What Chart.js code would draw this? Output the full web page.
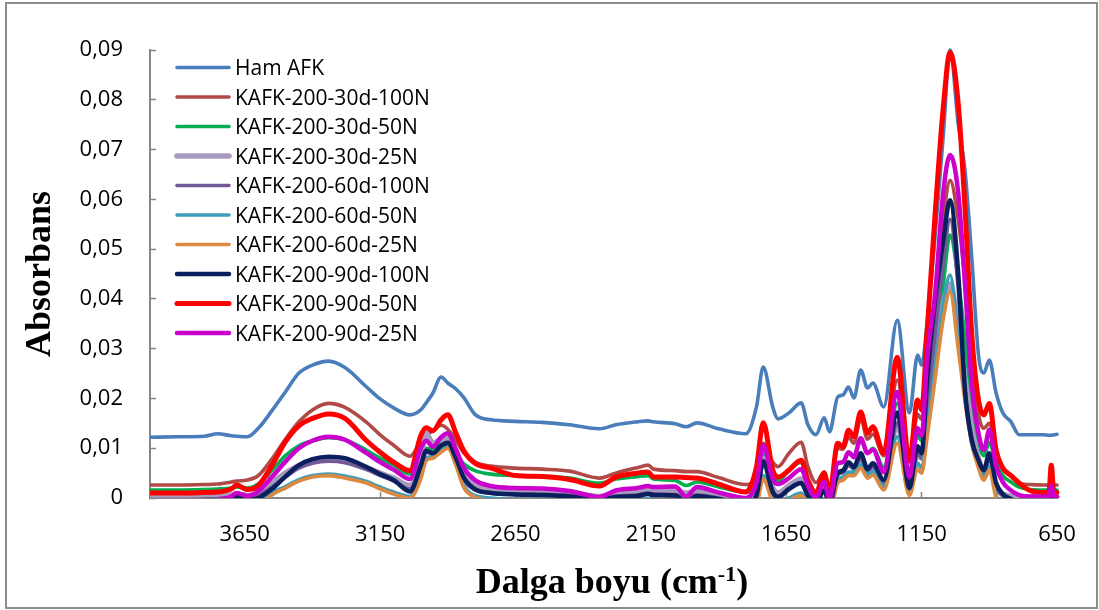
<!DOCTYPE html>
<html>
<head>
<meta charset="utf-8">
<script src="https://cdn.jsdelivr.net/npm/chart.js@4.4.1/dist/chart.umd.min.js"></script>
<style>
  html, body { margin: 0; padding: 0; background: #fff; }
  #wrap { width: 1099px; height: 610px; }
</style>
</head>
<body>
<div id="wrap"><canvas id="myChart" width="1099" height="610"></canvas></div>
<script>
// wavenumbers (cm-1), shared by every spectrum
const waveNumbers = [
  4000, 3900, 3800, 3750, 3700, 3680, 3640, 3600, 3550, 3500,
  3450, 3400, 3340, 3280, 3200, 3150, 3100, 3040, 3000, 2980,
  2955, 2925, 2900, 2870, 2840, 2800, 2740, 2650, 2550, 2450,
  2340, 2280, 2200, 2160, 2140, 2060, 2020, 1980, 1900, 1800,
  1760, 1735, 1700, 1680, 1640, 1595, 1570, 1540, 1510, 1490,
  1460, 1440, 1420, 1400, 1375, 1350, 1330, 1290, 1240, 1195,
  1165, 1150, 1130, 1100, 1070, 1045, 1015, 990, 965, 940,
  920, 900, 875, 850, 820, 790, 750, 700, 680, 671, 662, 650
];

const seriesNames = [
  "Ham AFK", "KAFK-200-30d-100N", "KAFK-200-30d-50N", "KAFK-200-30d-25N",
  "KAFK-200-60d-100N", "KAFK-200-60d-50N", "KAFK-200-60d-25N",
  "KAFK-200-90d-100N", "KAFK-200-90d-50N", "KAFK-200-90d-25N"
];

const hamAfk = [
  .0122, .0123, .0124, .0129, .0125, .0124, .0123, .0140, .0175, .0213,
  .0251, .0267, .0275, .0262, .0223, .0199, .0181, .0167, .0177, .0191,
  .0211, .0243, .0231, .0219, .0201, .0168, .0157, .0154, .0152, .0147,
  .0139, .0147, .0153, .0155, .0153, .0149, .0143, .0151, .0139, .0129,
  .0183, .0263, .0183, .0159, .0171, .0191, .0147, .0127, .0161, .0133,
  .0203, .0207, .0223, .0201, .0257, .0221, .0231, .0183, .0357, .0171,
  .0287, .0267, .0351, .0528, .0729, .0900, .0753, .0659, .0484, .0287,
  .0251, .0277, .0211, .0171, .0153, .0127, .0127, .0127, .0126, .0126, .0127, .0128
];

const kafk30d100N = [
  .0026, .0026, .0027, .0028, .0032, .0034, .0036, .0045, .0078, .0118,
  .0153, .0177, .0190, .0182, .0152, .0127, .0106, .0084, .0113, .0126,
  .0135, .0146, .0138, .0116, .0090, .0072, .0064, .0060, .0058, .0054,
  .0040, .0050, .0061, .0066, .0058, .0055, .0053, .0053, .0041, .0027,
  .0040, .0110, .0072, .0063, .0090, .0112, .0063, .0031, .0052, .0020,
  .0100, .0098, .0122, .0110, .0160, .0118, .0128, .0085, .0237, .0076,
  .0168, .0158, .0260, .0400, .0560, .0638, .0560, .0440, .0310, .0170,
  .0140, .0150, .0095, .0062, .0045, .0030, .0027, .0026, .0026, .0040, .0027, .0026
];

const kafk30d50N = [
  .0016, .0016, .0017, .0018, .0020, .0022, .0020, .0028, .0055, .0085,
  .0105, .0115, .0121, .0117, .0096, .0080, .0066, .0048, .0085, .0100,
  .0098, .0115, .0118, .0090, .0068, .0055, .0048, .0045, .0044, .0040,
  .0030, .0038, .0043, .0045, .0038, .0035, .0025, .0032, .0022, .0012,
  .0025, .0090, .0045, .0035, .0055, .0072, .0030, .0008, .0040, .0008,
  .0070, .0072, .0092, .0085, .0118, .0090, .0100, .0062, .0190, .0055,
  .0125, .0115, .0195, .0300, .0430, .0528, .0440, .0320, .0190, .0110,
  .0085, .0112, .0070, .0045, .0032, .0022, .0017, .0016, .0016, .0040, .0016, .0016
];

const kafk30d25N = [
  .0002, .0002, .0003, .0004, .0006, .0008, .0005, .0010, .0030, .0050,
  .0065, .0073, .0077, .0074, .0060, .0050, .0040, .0025, .0080, .0130,
  .0110, .0118, .0120, .0085, .0045, .0025, .0018, .0015, .0014, .0011,
  .0003, .0010, .0013, .0018, .0015, .0014, .0010, .0013, .0006, -.0004,
  .0012, .0080, .0020, .0010, .0025, .0038, .0012, -.0005, .0022, -.0005,
  .0050, .0055, .0068, .0062, .0082, .0058, .0065, .0030, .0150, .0018,
  .0090, .0080, .0160, .0290, .0390, .0430, .0340, .0240, .0140, .0080,
  .0055, .0080, .0020, .0008, .0004, .0002, .0002, .0002, .0002, .0015, .0002, .0002
];

const kafk60d100N = [
  -.0003, -.0003, -.0002, -.0001, .0002, .0004, .0001, .0005, .0022, .0042,
  .0060, .0070, .0074, .0071, .0057, .0045, .0034, .0018, .0060, .0092,
  .0088, .0100, .0106, .0075, .0036, .0016, .0010, .0008, .0007, .0005,
  -.0003, .0004, .0006, .0010, .0008, .0007, .0002, .0006, .0000, -.0010,
  .0006, .0068, .0013, .0004, .0019, .0031, .0006, -.0010, .0014, -.0010,
  .0046, .0051, .0066, .0058, .0080, .0053, .0062, .0030, .0150, .0016,
  .0090, .0080, .0170, .0330, .0470, .0560, .0420, .0220, .0110, .0068,
  .0050, .0080, .0022, .0004, -.0002, -.0005, -.0006, -.0006, -.0006, .0008, -.0006, -.0006
];

const kafk60d50N = [
  -.0035, -.0035, -.0033, -.0030, -.0022, -.0018, -.0020, -.0012, .0010, .0023,
  .0037, .0045, .0048, .0044, .0033, .0022, .0012, .0003, .0045, .0080,
  .0083, .0095, .0103, .0068, .0024, .0005, .0000, -.0003, -.0003, -.0005,
  -.0012, -.0007, -.0005, -.0001, -.0003, -.0004, -.0007, -.0005, -.0011, -.0020,
  -.0010, .0045, -.0003, -.0010, .0000, .0010, -.0007, -.0022, -.0003, -.0024,
  .0036, .0042, .0052, .0052, .0068, .0047, .0053, .0022, .0123, .0012,
  .0070, .0060, .0135, .0265, .0390, .0448, .0320, .0210, .0120, .0066,
  .0042, .0062, .0005, -.0010, -.0020, -.0025, -.0030, -.0030, -.0030, -.0020, -.0030, -.0030
];

const kafk60d25N = [
  -.0045, -.0045, -.0043, -.0040, -.0033, -.0028, -.0030, -.0020, .0006, .0020,
  .0034, .0042, .0045, .0040, .0030, .0018, .0008, .0000, .0038, .0075,
  .0080, .0092, .0100, .0065, .0020, .0002, -.0005, -.0008, -.0008, -.0010,
  -.0018, -.0012, -.0010, -.0006, -.0008, -.0009, -.0012, -.0010, -.0016, -.0025,
  -.0015, .0038, -.0008, -.0015, -.0005, .0005, -.0012, -.0028, -.0008, -.0030,
  .0030, .0036, .0045, .0045, .0060, .0040, .0046, .0016, .0110, .0005,
  .0058, .0050, .0120, .0240, .0360, .0414, .0300, .0195, .0110, .0060,
  .0036, .0056, .0000, -.0015, -.0025, -.0030, -.0035, -.0035, -.0035, -.0025, -.0035, -.0035
];

const kafk90d100N = [
  -.0020, -.0020, -.0018, -.0014, -.0004, .0002, -.0004, .0000, .0018, .0043,
  .0066, .0078, .0083, .0080, .0062, .0048, .0036, .0013, .0065, .0095,
  .0090, .0105, .0111, .0080, .0040, .0018, .0010, .0007, .0006, .0003,
  -.0004, .0002, .0004, .0008, .0006, .0005, -.0010, .0004, -.0002, -.0012,
  .0005, .0074, .0012, .0002, .0018, .0030, .0005, -.0010, .0015, -.0010,
  .0050, .0055, .0072, .0062, .0090, .0058, .0070, .0036, .0172, .0020,
  .0104, .0090, .0237, .0398, .0518, .0598, .0452, .0217, .0117, .0076,
  .0056, .0090, .0030, .0008, -.0002, -.0008, -.0010, -.0010, -.0010, .0010, -.0010, -.0010
];

const kafk90d50N = [
  .0010, .0010, .0011, .0012, .0018, .0026, .0017, .0025, .0065, .0113,
  .0145, .0160, .0169, .0160, .0115, .0092, .0072, .0055, .0125, .0141,
  .0135, .0157, .0167, .0130, .0094, .0070, .0060, .0045, .0043, .0037,
  .0024, .0042, .0050, .0052, .0042, .0042, .0041, .0040, .0028, .0012,
  .0062, .0151, .0056, .0042, .0056, .0076, .0036, .0010, .0050, .0010,
  .0110, .0103, .0136, .0123, .0173, .0130, .0143, .0090, .0283, .0074,
  .0197, .0177, .0331, .0572, .0785, .0895, .0793, .0584, .0330, .0197,
  .0167, .0190, .0096, .0060, .0045, .0030, .0015, .0011, .0011, .0066, .0012, .0011
];

const kafk90d25N = [
  -.0008, -.0008, -.0006, -.0004, .0003, .0010, .0004, .0014, .0042, .0073,
  .0100, .0115, .0123, .0117, .0090, .0072, .0057, .0038, .0100, .0115,
  .0103, .0122, .0130, .0098, .0060, .0036, .0024, .0020, .0019, .0014,
  .0002, .0015, .0020, .0024, .0022, .0023, .0003, .0022, .0011, .0000,
  .0030, .0106, .0038, .0028, .0040, .0058, .0025, .0001, .0032, -.0002,
  .0070, .0072, .0092, .0082, .0120, .0090, .0097, .0052, .0213, .0042,
  .0140, .0125, .0277, .0412, .0614, .0689, .0614, .0430, .0230, .0130,
  .0096, .0137, .0065, .0032, .0015, .0006, .0003, .0003, .0003, .0025, .0003, .0002
];

const yTicks = [0, 0.01, 0.02, 0.03, 0.04, 0.05, 0.06, 0.07, 0.08, 0.09];
const xTicks = [3650, 3150, 2650, 2150, 1650, 1150, 650];

const seriesValues = [
  hamAfk, kafk30d100N, kafk30d50N, kafk30d25N, kafk60d100N,
  kafk60d50N, kafk60d25N, kafk90d100N, kafk90d50N, kafk90d25N
];
const seriesColors = [
  "#4a7ebb", "#b04a47", "#00b050", "#a99bbd", "#735896",
  "#3e9db8", "#dc8a42", "#0a1f5e", "#ff0000", "#cc00cc"
];
const seriesWidths = [3.6, 3.6, 3.6, 5.5, 3.6, 3.6, 3.6, 4.5, 5, 4.5];

// white page + grey frame round the whole chart
const frame = {
  id: "frame",
  beforeDraw(chart) {
    const ctx = chart.ctx;
    ctx.save();
    ctx.fillStyle = "#fff";
    ctx.fillRect(0, 0, chart.width, chart.height);
    ctx.strokeStyle = "#8c8c8c";
    ctx.lineWidth = 2;
    ctx.strokeRect(6, 3, 1091, 605);
    ctx.restore();
  },
};

// legend sits inside the plot, top left
const insideLegend = {
  id: "insideLegend",
  afterDraw(chart) {
    const ctx = chart.ctx;
    const left = chart.chartArea.left;
    const top = chart.chartArea.top;
    ctx.save();
    ctx.font = "21px 'Open Sans'";
    ctx.textAlign = "left";
    ctx.textBaseline = "alphabetic";
    chart.data.datasets.forEach((ds, i) => {
      const y = top + 17.5 + i * 29.5;
      ctx.strokeStyle = ds.borderColor;
      ctx.lineWidth = ds.borderWidth;
      ctx.lineCap = "round";
      ctx.beginPath();
      ctx.moveTo(left + 27, y);
      ctx.lineTo(left + 79, y);
      ctx.stroke();
      ctx.fillStyle = "#000";
      ctx.fillText(ds.label, left + 85, y + 7.5);
    });
    ctx.restore();
  },
};

// x title with the superscript -1
const xTitle = {
  id: "xTitle",
  afterDraw(chart) {
    const ctx = chart.ctx;
    const big = "bold 36px 'Liberation Serif'";
    const small = "bold 22px 'Liberation Serif'";
    ctx.save();
    ctx.fillStyle = "#000";
    ctx.textAlign = "left";
    ctx.textBaseline = "alphabetic";
    ctx.font = big;
    const w1 = ctx.measureText("Dalga boyu (cm").width;
    const w3 = ctx.measureText(")").width;
    ctx.font = small;
    const w2 = ctx.measureText("-1").width;
    let x = 612 - (w1 + w2 + w3) / 2;
    const base = 593;
    ctx.font = big;
    ctx.fillText("Dalga boyu (cm", x, base);
    x += w1;
    ctx.font = small;
    ctx.fillText("-1", x, base - 12);
    x += w2;
    ctx.font = big;
    ctx.fillText(")", x, base);
    ctx.restore();
  },
};

const datasets = seriesValues.map((vals, i) => ({
  label: seriesNames[i],
  data: vals.map((v, j) => ({ x: waveNumbers[j], y: v })),
  borderColor: seriesColors[i],
  backgroundColor: seriesColors[i],
  borderWidth: seriesWidths[i],
  pointRadius: 0,
  cubicInterpolationMode: "monotone",
  borderJoinStyle: "round",
  borderCapStyle: "round",
  fill: false,
  order: seriesValues.length - i,
  clip: { left: 0, top: 6, right: 3, bottom: 0 },
}));

const canvas = document.getElementById("myChart").getContext("2d");
let spectraChart = new Chart(canvas, {
  type: "line",
  data: { datasets: datasets },
  plugins: [frame, insideLegend, xTitle],
  options: {
    responsive: false,
    maintainAspectRatio: false,
    animation: false,
    devicePixelRatio: 1,
    layout: { padding: { left: 0, right: 42, top: 50, bottom: 0 } },
    plugins: {
      legend: { display: false },
      tooltip: { enabled: false },
    },
    scales: {
      x: {
        type: "linear",
        min: 650,
        max: 4000,
        reverse: true,
        afterBuildTicks: (scale) => {
          scale.ticks = xTicks.map((v) => ({ value: v }));
        },
        afterFit: (scale) => {
          scale.height = 112;
          // the big label padding must not push the plot edge in
          scale.paddingLeft = 0;
          scale.paddingRight = 0;
        },
        grid: {
          drawOnChartArea: false,
          color: "#868686",
          tickLength: -6,
          tickWidth: 1.5,
        },
        border: { color: "#868686", width: 2 },
        ticks: {
          color: "#000",
          padding: 30,
          maxRotation: 0,
          autoSkip: false,
          font: { family: "'Open Sans'", size: 22 },
          callback: (v) => String(v),
        },
      },
      y: {
        min: 0,
        max: 0.09,
        afterBuildTicks: (scale) => {
          scale.ticks = yTicks.map((v) => ({ value: v }));
        },
        afterFit: (scale) => {
          scale.width = 150;
        },
        grid: {
          drawOnChartArea: false,
          color: "#868686",
          tickLength: -6,
          tickWidth: 1.5,
        },
        border: { color: "#868686", width: 2 },
        ticks: {
          color: "#000",
          padding: 33,
          font: { family: "'Open Sans'", size: 22 },
          callback: (v) => (v === 0 ? "0" : v.toFixed(2).replace(".", ",")),
        },
        title: {
          display: true,
          text: "Absorbans",
          color: "#000",
          padding: { top: 19, bottom: 0 },
          font: { family: "'Liberation Serif'", size: 36, weight: "bold" },
        },
      },
    },
  },
});
</script>
</body>
</html>
